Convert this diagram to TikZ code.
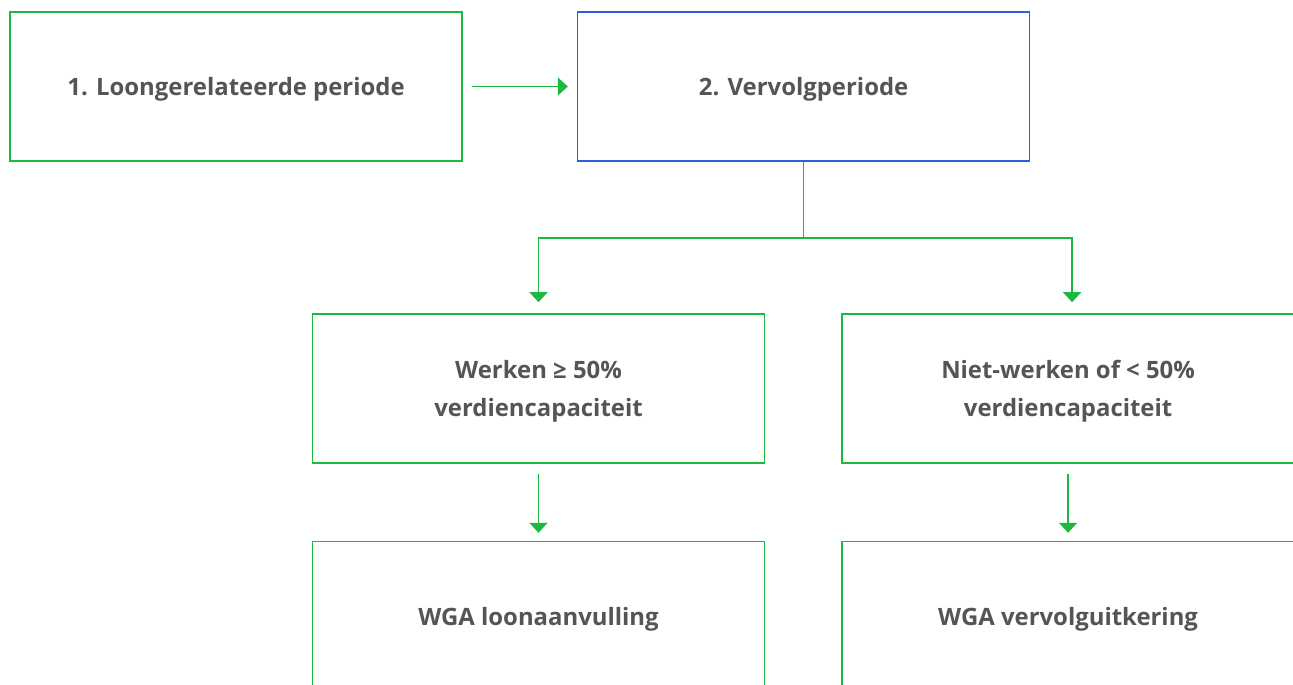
\documentclass[tikz,border=0pt]{standalone}
\usepackage{fontspec}
\setmainfont{Open Sans}
\usetikzlibrary{arrows.meta,positioning}
\definecolor{boxgreen}{RGB}{28,184,64}
\definecolor{boxblue}{RGB}{45,95,220}
\definecolor{textgray}{RGB}{85,85,85}
\tikzset{
	box/.style={draw=boxgreen, line width=0.9pt, minimum width=9.04cm, minimum height=2.98cm, inner sep=0pt, text depth=0pt, align=center, text=textgray, font=\bfseries\fontsize{13.6}{21.5}\selectfont},
	link/.style={draw=boxgreen, line width=0.9pt, -{Triangle[length=0.2cm, width=0.36cm]}},
}
\begin{document}
\begin{tikzpicture}
	\useasboundingbox (0,0) rectangle (25.86,-13.68);
	\clip (0,0) rectangle (25.86,-13.68);
	\node[box] (loon) at (4.72,-1.73) {1. Loongerelateerde periode};
	\node[box, draw=boxblue, right=2.28cm of loon] (vervolg) {2. Vervolgperiode};
	\node[box] (werken) at (10.77,-7.77) {Werken ≥ 50\%\\verdiencapaciteit};
	\node[box, right=1.52cm of werken] (nietwerken) {Niet-werken of < 50\%\\verdiencapaciteit};
	\node[box, below=1.54cm of werken] (loonaanv) {WGA loonaanvulling};
	\node[box, below=1.54cm of nietwerken] (vervolguitk) {WGA vervolguitkering};
	\draw[link] ([xshift=0.18cm]loon.east) -- ([xshift=-0.18cm]vervolg.west);
	\draw[link] (vervolg.south) -- ++(0,-1.52) -| ([yshift=0.22cm]werken.north);
	\draw[link] (vervolg.south) -- ++(0,-1.52) -| ([xshift=0.08cm, yshift=0.22cm]nietwerken.north);
	\draw[link] ([yshift=-0.2cm]werken.south) -- ([yshift=0.16cm]loonaanv.north);
	\draw[link] ([yshift=-0.2cm]nietwerken.south) -- ([yshift=0.16cm]vervolguitk.north);
\end{tikzpicture}
\end{document}
